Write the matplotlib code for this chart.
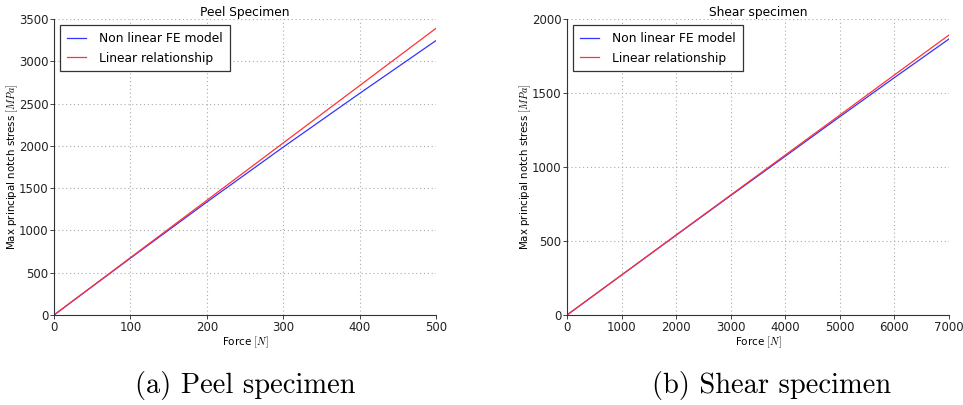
import matplotlib
matplotlib.use("Agg")
import matplotlib.pyplot as plt

plt.rcParams['mathtext.fontset'] = 'cm'
plt.rcParams['font.family'] = ['DejaVu Sans']

# Peel specimen data
peel_force = [0, 100, 200, 300, 400, 500]
peel_nonlinear = [0, 672, 1335, 1985, 2620, 3245]
peel_linear = [0, 678, 1356, 2034, 2712, 3390]

# Shear specimen data
shear_force = [0, 1000, 2000, 3000, 4000, 5000, 6000, 7000]
shear_nonlinear = [0, 270, 539, 807, 1073, 1340, 1604, 1865]
shear_linear = [0, 270, 541, 811, 1081, 1351, 1622, 1892]

panels = [
    dict(title="Peel Specimen", x=peel_force, nl=peel_nonlinear, lin=peel_linear,
         xlim=(0, 500), ylim=(0, 3500), xticks=[0, 100, 200, 300, 400, 500],
         yticks=[0, 500, 1000, 1500, 2000, 2500, 3000, 3500],
         caption="(a) Peel specimen", rect=[54/963, 1-315/405, 382/963, 296/405],
         cap_x=245/963),
    dict(title="Shear specimen", x=shear_force, nl=shear_nonlinear, lin=shear_linear,
         xlim=(0, 7000), ylim=(0, 2000), xticks=[0, 1000, 2000, 3000, 4000, 5000, 6000, 7000],
         yticks=[0, 500, 1000, 1500, 2000],
         caption="(b) Shear specimen", rect=[567/963, 1-315/405, 382/963, 296/405],
         cap_x=772/963),
]

fig = plt.figure(figsize=(9.63, 4.05), dpi=100)

for p in panels:
    ax = fig.add_axes(p['rect'])
    ax.plot(p['x'], p['nl'], color='#3333ff', lw=0.9, label='Non linear FE model')
    ax.plot(p['x'], p['lin'], color='#ff3333', lw=0.9, label='Linear relationship')
    ax.set_xlim(*p['xlim'])
    ax.set_ylim(*p['ylim'])
    ax.set_xticks(p['xticks'])
    ax.set_yticks(p['yticks'])
    ax.grid(True, linestyle=(0, (1, 2.5)), color='#aaaaaa', lw=0.8)
    ax.spines['top'].set_visible(False)
    ax.spines['right'].set_visible(False)
    ax.spines['left'].set_color('#333333')
    ax.spines['bottom'].set_color('#333333')
    ax.tick_params(labelsize=8.5, length=3, width=0.6, colors='#222222', pad=1)
    ax.set_title(p['title'], fontsize=8.8, pad=2)
    ax.set_xlabel(r"Force $[N]$", fontsize=7.5, labelpad=1)
    ax.set_ylabel(r"Max principal notch stress $[MPa]$", fontsize=7.4)
    ax.yaxis.set_label_coords(-0.09, 0.5)
    leg = ax.legend(loc='upper left', fontsize=8.8, fancybox=False, framealpha=1,
                    borderaxespad=0.5, handlelength=1.55, handletextpad=1.1,
                    borderpad=0.55, labelspacing=0.55)
    leg.get_frame().set_edgecolor('#333333')
    leg.get_frame().set_linewidth(0.9)
    fig.text(p['cap_x'], 1-386/405, p['caption'], fontsize=20.5, family='cmr10',
             ha='center', va='center')

fig.savefig("out.png", dpi=100)
